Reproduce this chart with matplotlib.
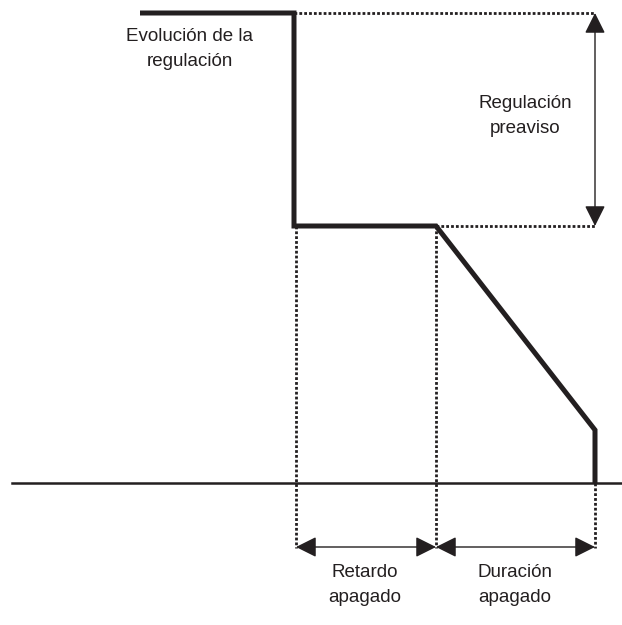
import matplotlib.pyplot as plt

# pixel-space geometry
regulation_x = [140, 294, 294, 436, 595, 595]
regulation_y = [13, 13, 226, 226, 430, 483]
baseline_y = 483
baseline_x = [12, 622]

guide_top = ([294, 595], [13, 13])
guide_mid = ([436, 595], [226, 226])
guide_verticals = [(296, 226, 548), (436, 226, 548), (595, 483, 548)]

span_arrows = [((296, 547), (436, 547)), ((436, 547), (595, 547))]
level_arrow = ((595, 13), (595, 226))

labels = ["Evolución de la\nregulación", "Regulación\npreaviso",
          "Retardo\napagado", "Duración\napagado"]
label_pos = [(190, 49), (525, 116), (365, 585), (515, 585)]

plt.rcParams['font.family'] = ['Liberation Sans', 'DejaVu Sans']

fig = plt.figure(figsize=(6.22, 6.25), dpi=100)
ax = fig.add_axes([0, 0, 1, 1])
ax.set_xlim(0, 622)
ax.set_ylim(625, 0)
ax.axis('off')

ink = '#231f20'
dots = dict(color=ink, lw=2.0, linestyle=(0, (1.0, 0.75)))

# dotted guides
ax.plot(*guide_top, **dots)
ax.plot(*guide_mid, **dots)
for x, y0, y1 in guide_verticals:
    ax.plot([x, x], [y0, y1], **dots)

# base axis
ax.plot(baseline_x, [baseline_y, baseline_y], color=ink, lw=1.8)

# regulation curve
ax.plot(regulation_x, regulation_y, color=ink, lw=3.6,
        solid_joinstyle='miter', solid_capstyle='butt')

# arrows
arrow_style = dict(arrowstyle='<|-|>,head_length=0.9,head_width=0.45',
                   mutation_scale=14, color=ink, lw=1.0,
                   shrinkA=0, shrinkB=0)
for a, b in span_arrows:
    ax.annotate('', xy=b, xytext=a, arrowprops=arrow_style)
ax.annotate('', xy=level_arrow[1], xytext=level_arrow[0], arrowprops=arrow_style)

for text, (x, y) in zip(labels, label_pos):
    ax.text(x, y, text, ha='center', va='center', fontsize=13.5,
            color=ink, linespacing=1.6)

fig.savefig('out.png', dpi=100)
